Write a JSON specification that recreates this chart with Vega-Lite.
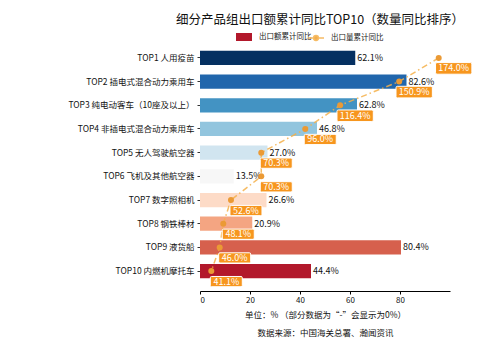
{
  "$schema": "https://vega.github.io/schema/vega-lite/v6.json",
  "width": 250,
  "height": 253,
  "autosize": "none",
  "padding": {"left": 200, "top": 38, "right": 50, "bottom": 52},
  "background": "white",
  "config": {
    "view": {"stroke": null},
    "font": "Noto Sans CJK SC",
    "axis": {"labelFont": "Noto Sans CJK SC", "titleFont": "Noto Sans CJK SC"},
    "legend": {"labelFont": "Noto Sans CJK SC"}
  },
  "title": {
    "text": "细分产品组出口额累计同比TOP10（数量同比排序）",
    "fontSize": 12.5,
    "fontWeight": "normal",
    "color": "#111",
    "anchor": "middle",
    "dx": -5,
    "offset": 3
  },
  "data": {
    "values": [
      {"product": "TOP1 人用疫苗", "export": 62.1, "qty": 174.0},
      {"product": "TOP2 插电式混合动力乘用车", "export": 82.6, "qty": 150.9},
      {"product": "TOP3 纯电动客车（10座及以上）", "export": 62.8, "qty": 116.4},
      {"product": "TOP4 非插电式混合动力乘用车", "export": 46.8, "qty": 96.0},
      {"product": "TOP5 无人驾驶航空器", "export": 27.0, "qty": 70.3},
      {"product": "TOP6 飞机及其他航空器", "export": 13.5, "qty": 70.3},
      {"product": "TOP7 数字照相机", "export": 26.6, "qty": 52.6},
      {"product": "TOP8 钢铁棒材", "export": 20.9, "qty": 48.1},
      {"product": "TOP9 液货船", "export": 80.4, "qty": 46.0},
      {"product": "TOP10 内燃机摩托车", "export": 44.4, "qty": 41.1}
    ]
  },
  "transform": [
    {"calculate": "format(datum.export, '.1f') + '%'", "as": "export_label"},
    {"calculate": "format(datum.qty, '.1f') + '%'", "as": "qty_label"}
  ],
  "encoding": {
    "y": {
      "field": "product",
      "type": "nominal",
      "sort": null,
      "scale": {"paddingInner": 0.4, "paddingOuter": 0.54},
      "axis": {
        "title": null,
        "domain": false,
        "ticks": true,
        "tickSize": 3,
        "tickColor": "#333",
        "labelPadding": 3,
        "labelFontSize": 8.5,
        "labelColor": "#111",
        "labelLimit": 250
      }
    }
  },
  "layer": [
    {
      "layer": [
        {
          "mark": {"type": "bar"},
          "encoding": {
            "x": {
              "field": "export",
              "type": "quantitative",
              "scale": {"domain": [0, 100]},
              "axis": {
                "values": [0, 20, 40, 60, 80],
                "grid": false,
                "domain": true,
                "domainColor": "#000",
                "tickColor": "#000",
                "tickSize": 3,
                "labelFontSize": 8,
                "labelColor": "#111",
                "labelPadding": 2,
                "title": ["单位：%  （部分数据为“-”会显示为0%）", "数据来源：中国海关总署、瀚闻资讯"],
                "titleFontSize": 8.5,
                "titleFontWeight": "normal",
                "titleColor": "#111",
                "titleLineHeight": 18,
                "titlePadding": 6
              }
            },
            "color": {
              "field": "product",
              "type": "nominal",
              "sort": null,
              "scale": {
                "domain": ["TOP1 人用疫苗", "TOP2 插电式混合动力乘用车", "TOP3 纯电动客车（10座及以上）", "TOP4 非插电式混合动力乘用车", "TOP5 无人驾驶航空器", "TOP6 飞机及其他航空器", "TOP7 数字照相机", "TOP8 钢铁棒材", "TOP9 液货船", "TOP10 内燃机摩托车"],
                "range": ["#053061", "#2166ac", "#4393c3", "#92c5de", "#d1e5f0", "#f7f7f7", "#fddbc7", "#f4a582", "#d6604d", "#b2182b"]
              },
              "legend": {
                "orient": "none",
                "legendX": 36,
                "legendY": -9,
                "title": null,
                "values": ["TOP10 内燃机摩托车"],
                "labelExpr": "'出口额累计同比'",
                "symbolType": "M-1,-0.5H1V0.5H-1Z",
                "symbolSize": 256,
                "symbolStrokeWidth": 0,
                "labelFontSize": 7.5,
                "labelColor": "#222",
                "labelOffset": 7,
                "padding": 0
              }
            }
          }
        },
        {
          "mark": {"type": "text", "align": "left", "baseline": "middle", "dx": 2, "fontSize": 9, "color": "#111"},
          "encoding": {
            "x": {"field": "export", "type": "quantitative"},
            "text": {"field": "export_label", "type": "nominal"}
          }
        }
      ]
    },
    {
      "layer": [
        {
          "mark": {"type": "line", "strokeWidth": 1.5, "strokeDash": [6, 3, 1.5, 3], "opacity": 0.85},
          "encoding": {
            "x": {"field": "qty", "type": "quantitative", "scale": {"domain": [34.5, 180.6], "zero": false}, "axis": null},
            "stroke": {
              "datum": "出口量累计同比",
              "scale": {"range": ["#f5b04a"]},
              "legend": {
                "orient": "none",
                "legendX": 107,
                "legendY": -9,
                "title": null,
                "symbolType": "M-1,0H-0.3M0.3,0H1M-0.3,0A0.3,0.3 0 1,0 0.3,0A0.3,0.3 0 1,0 -0.3,0Z",
                "symbolSize": 256,
                "symbolFillColor": "#f0a030",
                "symbolStrokeWidth": 1.5,
                "symbolDash": [],
                "labelFontSize": 7.5,
                "labelColor": "#222",
                "labelOffset": 6,
                "padding": 0
              }
            }
          }
        },
        {
          "mark": {"type": "point", "filled": true, "size": 36, "color": "#eb9a35", "opacity": 1},
          "encoding": {
            "x": {"field": "qty", "type": "quantitative", "scale": {"domain": [34.5, 180.6], "zero": false}, "axis": null}
          }
        },
        {
          "mark": {
            "type": "point",
            "filled": true,
            "shape": "M-0.92,-0.32H0.92Q1,-0.32 1,-0.24V0.24Q1,0.32 0.92,0.32H-0.92Q-1,0.32 -1,0.24V-0.24Q-1,-0.32 -0.92,-0.32Z",
            "fill": "#f7961e",
            "stroke": "white",
            "strokeWidth": 1,
            "opacity": 1,
            "xOffset": 15,
            "yOffset": 10.5
          },
          "encoding": {
            "x": {"field": "qty", "type": "quantitative", "scale": {"domain": [34.5, 180.6], "zero": false}, "axis": null},
            "size": {
              "field": "qty",
              "type": "quantitative",
              "scale": {"type": "threshold", "domain": [100], "range": [1024, 1320]},
              "legend": null
            }
          }
        },
        {
          "mark": {"type": "text", "align": "center", "baseline": "middle", "fontSize": 9, "color": "white", "dx": 15, "dy": 10.5},
          "encoding": {
            "x": {"field": "qty", "type": "quantitative", "scale": {"domain": [34.5, 180.6], "zero": false}, "axis": null},
            "text": {"field": "qty_label", "type": "nominal"}
          }
        }
      ]
    }
  ],
  "resolve": {"scale": {"x": "independent"}, "axis": {"x": "independent"}}
}
